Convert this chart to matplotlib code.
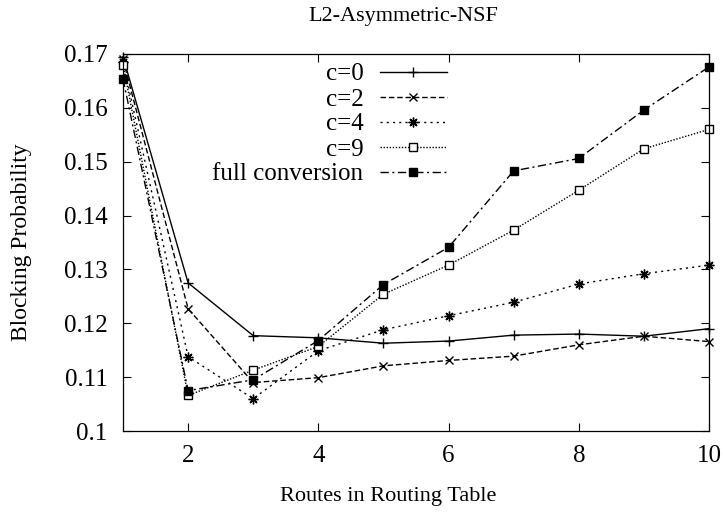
import matplotlib
matplotlib.use('Agg')
import matplotlib.pyplot as plt

routes = [1, 2, 3, 4, 5, 6, 7, 8, 9, 10]

c0 = [0.1695, 0.1275, 0.1177, 0.1173, 0.1163, 0.1167, 0.1178, 0.1180, 0.1176, 0.1190]
c2 = [0.1690, 0.1227, 0.1090, 0.1099, 0.1121, 0.1131, 0.1139, 0.1160, 0.1176, 0.1166]
c4 = [0.1685, 0.1138, 0.1060, 0.1149, 0.1188, 0.1214, 0.1239, 0.1273, 0.1292, 0.1308]
c9 = [0.1680, 0.1066, 0.1113, 0.1157, 0.1254, 0.1308, 0.1373, 0.1447, 0.1524, 0.1560]
full = [0.1654, 0.1075, 0.1095, 0.1168, 0.1272, 0.1341, 0.1483, 0.1506, 0.1596, 0.1676]

labels = ['c=0', 'c=2', 'c=4', 'c=9', 'full conversion']
xticks = [2, 4, 6, 8, 10]
yticks = [0.1, 0.11, 0.12, 0.13, 0.14, 0.15, 0.16, 0.17]

plt.rcParams['font.family'] = ['Liberation Serif', 'DejaVu Serif']

fig = plt.figure(figsize=(7.23, 5.12), dpi=100)
ax = fig.add_axes([123/723, 1-431/512, (709-123)/723, (431-54)/512])

kw = dict(color='black', lw=1.0, clip_on=False)
ax.plot(routes, c0, linestyle='-', marker='+', ms=7, mew=1.0, label=labels[0], **kw)
ax.plot(routes, c2, linestyle=(0, (4, 2)), marker='x', ms=5.5, mew=1.0, label=labels[1], **kw)
ax.plot(routes, c4, linestyle=(0, (1.5, 3)), marker=(8, 2, 0), ms=7, mew=1.0, label=labels[2], **kw)
ax.plot(routes, c9, linestyle=(0, (1, 1.2)), marker='s', ms=5.5, mew=1.0, mfc='white',
        label=labels[3], **kw)
ax.plot(routes, full, linestyle=(0, (6, 2.5, 1.5, 2.5)), marker='s', ms=6, mew=1.0,
        label=labels[4], **kw)

ax.set_xlim(1, 10)
ax.set_ylim(0.1, 0.17)
ax.set_xticks(xticks)
ax.set_yticks(yticks)
ax.set_yticklabels([f'{v:g}' for v in yticks])
ax.tick_params(direction='in', top=True, right=True, length=6, width=0.8,
               labelsize=18)
ax.tick_params(axis='y', pad=11)
ax.tick_params(axis='x', pad=10)
for s in ax.spines.values():
    s.set_linewidth(0.9)

ax.set_xlabel('Routes in Routing Table', fontsize=16, va='center')
ax.xaxis.set_label_coords((388-123)/586, -(496-431)/377, transform=ax.transAxes)
ax.set_ylabel('Blocking Probability', fontsize=17, va='center', ha='center')
ax.yaxis.set_label_coords(-(123-22)/586, 0.5, transform=ax.transAxes)
ax.text((403-123)/586, (431-17)/377, 'L2-Asymmetric-NSF', fontsize=16,
        ha='center', va='center', transform=ax.transAxes)

ax.legend(loc='upper right', bbox_to_anchor=((447-123)/586, (431-63)/377),
          markerfirst=False, frameon=False, fontsize=18, handlelength=2.7,
          handletextpad=0.64, labelspacing=0.1, borderpad=0, borderaxespad=0)

fig.savefig('out.png', dpi=100)
